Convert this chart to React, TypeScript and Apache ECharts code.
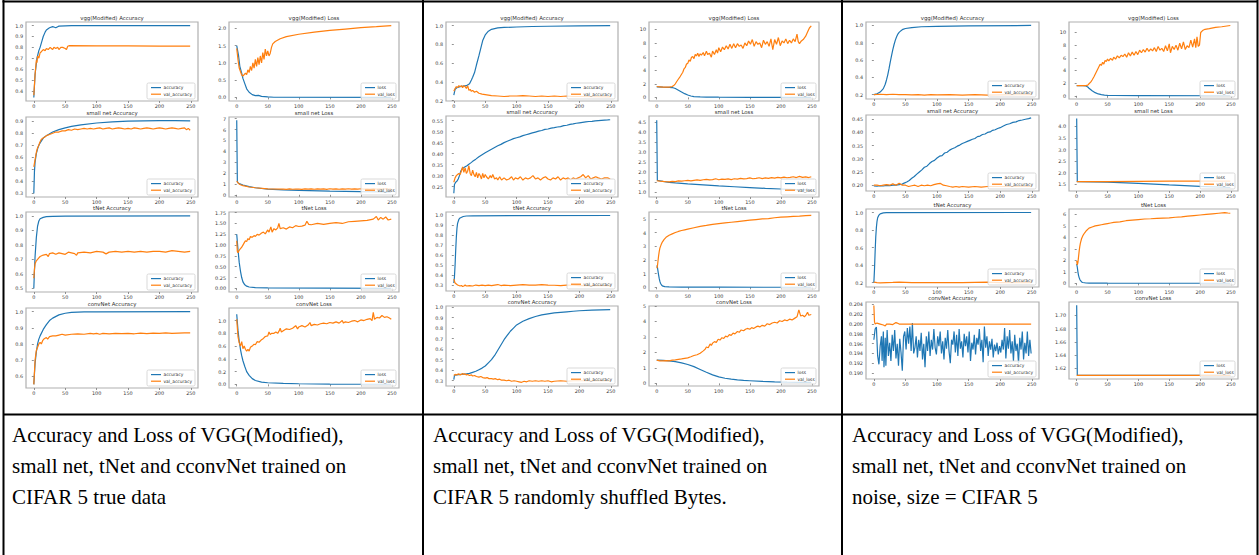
import React, { useEffect, useRef } from "react";
import * as echarts from "echarts";

// ---------------- DATA ----------------
const xTicks = [0, 50, 100, 150, 200, 250];

// ---- Column 1: CIFAR 5 true data ----
const c1VggAccTrain = [[0,0.34],[2,0.55],[5,0.7],[8,0.77],[10,0.8],[13,0.86],[15,0.9],[18,0.94],[20,0.96],[25,0.98],[30,0.99],[33,0.985],[35,0.98],[38,0.99],[40,0.995],[50,0.998],[60,1.0],[249,1.0]];
const c1VggAccVal = [[0,0.36],[2,0.55],[4,0.68],[5,0.66],[6,0.72],[8,0.7],[10,0.75],[12,0.76],[15,0.78],[18,0.77],[20,0.79],[23,0.78],[26,0.8],[28,0.79],[30,0.78],[32,0.8],[35,0.79],[38,0.8],[40,0.78],[43,0.8],[46,0.8],[50,0.79],[52,0.78],[54,0.81],[56,0.815],[100,0.814],[150,0.813],[200,0.812],[249,0.811]];
const c1VggLossTrain = [[0,1.5],[3,1.2],[5,0.9],[8,0.7],[10,0.55],[13,0.4],[16,0.25],[20,0.15],[25,0.08],[30,0.05],[35,0.06],[40,0.03],[50,0.015],[60,0.005],[249,0.0]];
const c1VggLossVal = [[0,1.42],[2,1.1],[4,0.85],[6,0.75],[8,0.65],[10,0.62],[12,0.66],[14,0.7],[16,0.66],[18,0.8],[20,0.72],[22,0.9],[24,0.78],[26,1.0],[28,0.85],[30,1.1],[32,0.9],[34,1.15],[36,0.95],[38,1.2],[40,1.0],[42,1.3],[44,1.1],[46,1.4],[48,1.2],[50,1.35],[52,1.2],[54,1.28],[56,1.45],[58,1.55],[62,1.62],[70,1.7],[80,1.76],[100,1.83],[125,1.89],[150,1.94],[175,1.98],[200,2.02],[225,2.05],[249,2.08]];
const c1SmallAccTrain = [[0,0.3],[1,0.48],[2,0.56],[4,0.63],[6,0.67],[8,0.7],[10,0.72],[15,0.76],[20,0.78],[30,0.81],[40,0.83],[50,0.845],[60,0.857],[75,0.87],[100,0.885],[125,0.895],[150,0.9],[175,0.903],[200,0.905],[225,0.905],[249,0.903]];
const c1SmallAccVal = [[0,0.52],[2,0.58],[4,0.64],[6,0.68],[8,0.7],[10,0.73],[12,0.75],[15,0.76],[18,0.77],[20,0.78],[25,0.79],[30,0.8],[35,0.81],[40,0.81],[45,0.82],[50,0.82],[55,0.83],[60,0.825],[65,0.835],[70,0.83],[75,0.835],[80,0.84],[85,0.835],[90,0.84],[95,0.835],[100,0.84],[105,0.845],[110,0.835],[115,0.84],[120,0.845],[125,0.835],[130,0.84],[135,0.845],[140,0.84],[145,0.835],[150,0.84],[155,0.835],[160,0.845],[165,0.84],[170,0.835],[175,0.84],[180,0.845],[185,0.84],[190,0.835],[195,0.84],[200,0.845],[205,0.84],[210,0.835],[215,0.84],[220,0.845],[225,0.84],[230,0.835],[235,0.84],[240,0.845],[243,0.83],[246,0.84],[249,0.825]];
const c1SmallLossTrain = [[0,6.85],[1,1.25],[2,1.1],[5,1.0],[10,0.9],[20,0.75],[30,0.65],[50,0.52],[75,0.45],[100,0.4],[150,0.34],[200,0.3],[249,0.28]];
const c1SmallLossVal = [[0,1.25],[2,1.1],[5,0.95],[10,0.85],[20,0.72],[30,0.65],[50,0.55],[75,0.52],[80,0.5],[85,0.54],[90,0.51],[95,0.53],[100,0.52],[105,0.5],[110,0.55],[115,0.52],[120,0.54],[125,0.51],[130,0.55],[135,0.52],[140,0.54],[145,0.5],[150,0.56],[155,0.52],[160,0.54],[165,0.51],[170,0.55],[175,0.52],[180,0.56],[185,0.53],[190,0.55],[195,0.52],[200,0.56],[205,0.53],[210,0.55],[215,0.52],[220,0.57],[225,0.53],[230,0.55],[235,0.52],[240,0.56],[245,0.53],[249,0.55]];
const c1TAccTrain = [[0,0.5],[1,0.62],[2,0.72],[4,0.85],[6,0.93],[8,0.965],[10,0.98],[15,0.99],[20,0.995],[30,0.997],[50,0.998],[249,1.0]];
const c1TAccVal = [[0,0.57],[1,0.63],[2,0.67],[4,0.69],[6,0.7],[8,0.71],[10,0.72],[15,0.73],[20,0.735],[23,0.72],[25,0.74],[30,0.745],[35,0.735],[40,0.745],[45,0.74],[50,0.735],[55,0.75],[60,0.745],[65,0.74],[68,0.728],[70,0.745],[80,0.75],[90,0.745],[100,0.755],[110,0.75],[115,0.738],[120,0.75],[130,0.755],[140,0.75],[150,0.755],[160,0.75],[170,0.755],[180,0.75],[190,0.755],[200,0.755],[210,0.75],[220,0.76],[230,0.755],[240,0.75],[249,0.755]];
const c1TLossTrain = [[0,1.25],[2,0.9],[4,0.6],[6,0.4],[8,0.25],[10,0.15],[13,0.08],[16,0.05],[20,0.03],[30,0.015],[50,0.01],[249,0.0]];
const c1TLossVal = [[0,1.1],[1,0.85],[2,0.82],[4,0.88],[6,0.92],[8,0.95],[10,1.0],[12,1.05],[14,1.1],[16,1.08],[18,1.15],[20,1.12],[22,1.2],[25,1.18],[28,1.22],[30,1.2],[33,1.25],[36,1.23],[40,1.28],[43,1.3],[46,1.26],[50,1.35],[52,1.3],[55,1.42],[57,1.3],[60,1.38],[63,1.35],[66,1.4],[68,1.5],[70,1.38],[75,1.4],[80,1.37],[85,1.42],[90,1.4],[95,1.45],[100,1.43],[105,1.44],[110,1.46],[113,1.55],[116,1.48],[120,1.47],[130,1.5],[140,1.48],[150,1.5],[160,1.52],[170,1.5],[180,1.54],[190,1.55],[200,1.56],[210,1.57],[220,1.6],[225,1.66],[228,1.58],[232,1.64],[236,1.6],[240,1.65],[244,1.58],[249,1.6]];
const c1ConvAccTrain = [[0,0.55],[2,0.68],[4,0.75],[6,0.8],[8,0.83],[10,0.85],[15,0.89],[20,0.92],[25,0.945],[30,0.96],[40,0.98],[50,0.99],[60,0.995],[80,0.998],[100,0.999],[249,1.0]];
const c1ConvAccVal = [[0,0.55],[2,0.7],[4,0.76],[6,0.78],[8,0.8],[10,0.81],[12,0.8],[14,0.82],[16,0.83],[18,0.835],[20,0.84],[22,0.83],[25,0.845],[30,0.85],[35,0.85],[40,0.855],[45,0.86],[50,0.855],[60,0.86],[70,0.862],[80,0.86],[90,0.865],[95,0.862],[100,0.865],[105,0.86],[110,0.865],[120,0.862],[130,0.866],[140,0.864],[150,0.866],[160,0.863],[170,0.867],[180,0.864],[190,0.867],[200,0.865],[210,0.868],[220,0.866],[230,0.867],[240,0.868],[249,0.868]];
const c1ConvLossTrain = [[0,1.1],[2,0.85],[4,0.68],[6,0.55],[8,0.45],[10,0.37],[13,0.28],[16,0.2],[20,0.14],[25,0.09],[30,0.06],[40,0.035],[50,0.025],[75,0.015],[100,0.01],[150,0.005],[249,0.002]];
const c1ConvLossVal = [[0,1.02],[2,0.75],[4,0.65],[6,0.6],[8,0.67],[10,0.56],[12,0.6],[14,0.55],[16,0.52],[18,0.55],[20,0.52],[22,0.58],[25,0.6],[28,0.63],[30,0.62],[33,0.67],[36,0.66],[40,0.7],[43,0.72],[46,0.75],[50,0.76],[52,0.82],[54,0.78],[56,0.8],[60,0.8],[63,0.82],[66,0.8],[69,0.85],[70,0.88],[72,0.82],[75,0.84],[80,0.87],[85,0.86],[90,0.88],[95,0.92],[98,0.87],[100,0.9],[105,0.92],[110,0.9],[115,0.93],[118,0.97],[120,0.92],[125,0.94],[130,0.93],[135,0.95],[140,0.96],[145,0.95],[150,0.97],[155,0.96],[160,0.98],[165,0.96],[170,1.0],[172,0.96],[175,0.98],[180,0.97],[185,0.99],[190,1.0],[195,0.98],[200,1.01],[205,1.0],[210,1.02],[215,1.03],[218,1.0],[220,1.13],[222,1.02],[226,1.05],[230,1.04],[234,1.08],[238,1.05],[242,1.06],[246,1.04],[249,1.02]];

// ---- Column 2: randomly shuffled bytes ----
const c2VggAccTrain = [[0,0.26],[2,0.32],[5,0.34],[10,0.35],[15,0.355],[20,0.36],[25,0.38],[28,0.42],[30,0.45],[33,0.5],[36,0.58],[40,0.68],[43,0.76],[46,0.84],[50,0.9],[55,0.94],[60,0.96],[70,0.975],[80,0.98],[100,0.985],[125,0.99],[150,0.993],[200,0.997],[249,1.0]];
const c2VggAccVal = [[0,0.3],[2,0.33],[4,0.35],[6,0.34],[8,0.36],[10,0.35],[12,0.36],[14,0.34],[16,0.36],[18,0.35],[20,0.33],[22,0.36],[24,0.31],[26,0.32],[28,0.3],[30,0.31],[33,0.29],[36,0.3],[40,0.28],[45,0.27],[50,0.265],[55,0.26],[60,0.255],[70,0.25],[80,0.245],[90,0.25],[100,0.25],[110,0.255],[120,0.25],[130,0.245],[140,0.25],[150,0.245],[160,0.25],[170,0.245],[180,0.25],[190,0.245],[200,0.245],[249,0.24]];
const c2VggLossTrain = [[0,1.55],[10,1.5],[20,1.48],[25,1.45],[30,1.3],[35,1.05],[40,0.8],[45,0.55],[50,0.35],[55,0.2],[60,0.12],[70,0.07],[80,0.05],[100,0.03],[150,0.015],[249,0.005]];
const c2VggLossVal = [[0,1.6],[5,1.55],[10,1.5],[15,1.5],[20,1.52],[25,1.6],[28,1.8],[30,2.0],[32,2.3],[35,2.7],[38,3.1],[40,3.4],[42,3.7],[44,4.2],[46,4.4],[48,4.9],[50,5.0],[52,5.5],[54,5.3],[56,5.9],[58,6.0],[60,5.7],[62,6.3],[64,6.1],[66,6.5],[68,6.0],[70,6.4],[72,6.2],[75,6.6],[77,6.1],[80,6.8],[82,6.3],[85,6.5],[88,5.9],[90,6.8],[93,6.3],[96,7.0],[98,6.5],[100,7.3],[103,6.7],[106,7.4],[109,7.0],[112,7.6],[115,7.1],[118,7.8],[121,7.2],[124,7.9],[127,7.3],[130,7.9],[133,7.5],[136,7.7],[139,7.2],[142,8.0],[145,7.6],[148,8.3],[151,7.8],[154,8.5],[157,7.5],[160,8.2],[163,7.8],[166,8.0],[169,7.3],[172,8.4],[175,7.8],[178,8.2],[181,7.5],[184,8.6],[187,7.0],[190,8.5],[193,7.8],[196,8.8],[199,7.6],[202,8.3],[205,8.0],[208,8.6],[211,7.9],[214,8.4],[217,8.0],[220,8.6],[223,8.2],[226,9.3],[228,8.2],[230,7.9],[233,8.3],[236,8.5],[240,9.0],[243,9.6],[246,10.2],[249,10.5]];
const c2SmallAccTrain = [[0,0.22],[1,0.26],[3,0.27],[5,0.275],[7,0.285],[9,0.3],[11,0.32],[13,0.33],[15,0.335],[18,0.34],[21,0.345],[24,0.352],[27,0.358],[30,0.365],[35,0.375],[40,0.386],[45,0.395],[50,0.404],[55,0.412],[60,0.42],[65,0.428],[70,0.436],[75,0.442],[80,0.45],[85,0.456],[90,0.462],[95,0.468],[100,0.472],[105,0.476],[110,0.482],[115,0.486],[120,0.49],[125,0.494],[130,0.498],[135,0.502],[140,0.505],[145,0.51],[150,0.512],[155,0.516],[160,0.518],[165,0.521],[170,0.523],[175,0.527],[180,0.529],[185,0.533],[190,0.535],[195,0.538],[200,0.54],[205,0.542],[210,0.544],[215,0.546],[220,0.547],[225,0.549],[230,0.55],[235,0.551],[240,0.552],[245,0.553],[249,0.554]];
const c2SmallAccVal = [[0,0.27],[2,0.29],[4,0.3],[6,0.305],[8,0.31],[10,0.305],[12,0.32],[14,0.34],[16,0.315],[18,0.335],[20,0.31],[22,0.32],[24,0.345],[26,0.31],[28,0.3],[30,0.325],[32,0.305],[34,0.295],[36,0.315],[38,0.29],[40,0.31],[42,0.3],[44,0.285],[46,0.31],[48,0.29],[50,0.305],[52,0.295],[55,0.285],[58,0.3],[60,0.29],[62,0.305],[65,0.285],[68,0.29],[70,0.28],[73,0.295],[76,0.28],[80,0.29],[84,0.28],[88,0.285],[92,0.295],[95,0.28],[98,0.29],[102,0.285],[106,0.295],[110,0.28],[114,0.29],[118,0.285],[122,0.29],[126,0.3],[130,0.285],[134,0.29],[138,0.28],[142,0.29],[146,0.295],[150,0.285],[154,0.28],[158,0.29],[162,0.285],[166,0.295],[170,0.28],[174,0.29],[178,0.285],[182,0.29],[186,0.28],[190,0.29],[194,0.285],[198,0.29],[202,0.295],[206,0.305],[210,0.29],[214,0.3],[218,0.285],[222,0.29],[226,0.295],[230,0.29],[235,0.285],[240,0.29],[245,0.29],[249,0.285]];
const c2SmallLossTrain = [[0,4.6],[1,1.6],[5,1.58],[10,1.55],[20,1.5],[30,1.47],[50,1.42],[75,1.37],[100,1.32],[125,1.28],[150,1.24],[175,1.2],[200,1.17],[225,1.14],[249,1.12]];
const c2SmallLossVal = [[0,1.58],[5,1.56],[10,1.55],[15,1.53],[20,1.52],[25,1.55],[30,1.54],[35,1.57],[40,1.56],[45,1.58],[50,1.6],[55,1.57],[60,1.6],[65,1.62],[70,1.6],[75,1.63],[80,1.65],[85,1.62],[90,1.64],[95,1.68],[100,1.63],[105,1.66],[110,1.65],[115,1.67],[120,1.64],[125,1.68],[130,1.66],[135,1.7],[140,1.67],[145,1.69],[150,1.72],[155,1.68],[160,1.7],[165,1.73],[170,1.69],[175,1.72],[180,1.7],[185,1.74],[190,1.71],[195,1.75],[200,1.72],[205,1.76],[210,1.73],[215,1.75],[220,1.78],[225,1.74],[230,1.8],[235,1.75],[240,1.77],[245,1.74],[249,1.78]];
const c2TAccTrain = [[0,0.32],[1,0.38],[2,0.5],[3,0.65],[4,0.78],[5,0.87],[6,0.92],[8,0.96],[10,0.975],[15,0.99],[20,0.995],[30,0.997],[249,1.0]];
const c2TAccVal = [[0,0.36],[1,0.34],[2,0.32],[4,0.31],[6,0.3],[8,0.295],[10,0.29],[12,0.295],[14,0.285],[16,0.29],[18,0.3],[20,0.29],[25,0.295],[30,0.29],[35,0.3],[40,0.295],[45,0.3],[50,0.295],[55,0.3],[60,0.295],[65,0.3],[70,0.305],[75,0.295],[80,0.3],[90,0.295],[100,0.3],[110,0.305],[120,0.3],[130,0.3],[140,0.305],[150,0.3],[160,0.298],[170,0.295],[180,0.3],[190,0.298],[200,0.295],[249,0.295]];
const c2TLossTrain = [[0,1.6],[1,1.5],[2,1.2],[3,0.9],[4,0.65],[5,0.45],[6,0.3],[8,0.15],[10,0.08],[13,0.05],[20,0.03],[40,0.015],[100,0.008],[249,0.003]];
const c2TLossVal = [[0,1.4],[1,1.5],[2,1.9],[3,2.3],[4,2.6],[5,2.85],[7,3.1],[9,3.3],[12,3.5],[15,3.65],[20,3.8],[25,3.9],[30,4.0],[35,4.08],[40,4.15],[45,4.2],[50,4.25],[60,4.35],[70,4.45],[80,4.52],[90,4.6],[100,4.65],[110,4.7],[120,4.75],[130,4.8],[140,4.85],[150,4.9],[160,4.95],[170,5.0],[180,5.02],[190,5.08],[200,5.12],[210,5.15],[220,5.18],[230,5.2],[240,5.24],[249,5.25]];
const c2ConvAccTrain = [[0,0.31],[1,0.35],[3,0.355],[5,0.355],[10,0.36],[15,0.362],[20,0.365],[25,0.37],[30,0.38],[35,0.39],[40,0.405],[45,0.42],[50,0.44],[55,0.47],[60,0.5],[65,0.54],[70,0.59],[75,0.64],[80,0.69],[85,0.73],[90,0.77],[95,0.8],[100,0.83],[110,0.865],[120,0.89],[130,0.91],[140,0.925],[150,0.935],[160,0.945],[170,0.95],[180,0.955],[190,0.96],[200,0.965],[220,0.97],[249,0.975]];
const c2ConvAccVal = [[0,0.35],[2,0.36],[4,0.355],[6,0.36],[8,0.365],[10,0.355],[12,0.36],[14,0.37],[16,0.36],[18,0.365],[20,0.355],[22,0.36],[25,0.35],[28,0.355],[30,0.345],[33,0.35],[36,0.34],[40,0.335],[43,0.34],[46,0.33],[50,0.325],[53,0.33],[56,0.32],[60,0.32],[63,0.315],[66,0.32],[70,0.31],[73,0.315],[76,0.305],[80,0.305],[84,0.3],[88,0.305],[92,0.295],[96,0.3],[100,0.295],[104,0.29],[108,0.285],[112,0.295],[116,0.29],[120,0.3],[125,0.295],[130,0.3],[135,0.295],[140,0.3],[145,0.295],[150,0.3],[155,0.29],[160,0.295],[170,0.3],[180,0.295],[190,0.3],[200,0.3],[249,0.3]];
const c2ConvLossTrain = [[0,1.5],[10,1.48],[20,1.45],[30,1.4],[40,1.32],[50,1.22],[60,1.08],[70,0.9],[80,0.72],[90,0.55],[100,0.42],[110,0.33],[120,0.27],[130,0.22],[140,0.19],[150,0.17],[170,0.13],[190,0.1],[210,0.08],[230,0.07],[249,0.06]];
const c2ConvLossVal = [[0,1.5],[5,1.45],[10,1.45],[15,1.47],[20,1.45],[25,1.5],[30,1.52],[35,1.55],[40,1.58],[45,1.62],[50,1.65],[55,1.72],[60,1.8],[65,1.85],[70,1.95],[75,2.1],[78,2.2],[80,2.35],[83,2.3],[86,2.55],[88,2.45],[90,2.6],[93,2.7],[96,2.65],[99,2.85],[102,2.8],[105,2.95],[108,2.9],[111,3.05],[114,3.0],[117,3.15],[120,3.1],[123,3.25],[126,3.2],[130,3.35],[133,3.3],[136,3.45],[140,3.4],[143,3.5],[146,3.55],[150,3.5],[153,3.6],[156,3.55],[160,3.65],[163,3.7],[166,3.65],[170,3.75],[174,3.7],[178,3.85],[182,3.8],[186,3.9],[190,3.95],[194,3.9],[198,4.05],[202,4.0],[206,4.1],[210,4.05],[214,4.15],[218,4.1],[222,4.2],[226,4.3],[229,4.75],[232,4.35],[235,4.4],[238,4.3],[241,4.45],[243,4.6],[245,4.4],[249,4.45]];

// ---- Column 3: noise ----
const c3VggAccTrain = [[0,0.2],[5,0.21],[10,0.23],[15,0.27],[18,0.32],[20,0.37],[22,0.43],[24,0.5],[26,0.58],[28,0.65],[30,0.72],[32,0.78],[34,0.83],[36,0.87],[38,0.9],[40,0.92],[43,0.94],[46,0.955],[50,0.965],[60,0.975],[75,0.985],[100,0.99],[150,0.995],[249,1.0]];
const c3VggAccVal = [[0,0.2],[10,0.205],[20,0.2],[30,0.205],[40,0.2],[50,0.2],[60,0.198],[70,0.2],[80,0.195],[90,0.2],[100,0.198],[120,0.2],[140,0.195],[160,0.2],[180,0.195],[200,0.198],[249,0.2]];
const c3VggLossTrain = [[0,1.6],[10,1.6],[15,1.55],[18,1.4],[20,1.2],[25,0.8],[30,0.5],[35,0.3],[40,0.18],[45,0.12],[50,0.08],[60,0.05],[100,0.03],[249,0.01]];
const c3VggLossVal = [[0,1.6],[10,1.6],[15,1.62],[18,1.7],[20,1.9],[23,2.2],[25,2.5],[28,3.0],[30,3.4],[32,3.8],[34,4.2],[36,4.6],[38,5.0],[40,4.8],[42,5.3],[44,5.0],[46,5.6],[48,5.4],[50,5.8],[52,5.5],[55,5.9],[58,5.6],[60,6.1],[63,5.8],[66,6.3],[69,6.0],[72,6.4],[75,6.2],[78,6.6],[81,6.1],[84,6.8],[87,6.3],[90,6.9],[93,6.4],[96,7.0],[99,6.5],[102,7.2],[105,6.8],[108,7.3],[111,6.9],[114,7.5],[117,7.0],[120,7.4],[123,7.1],[126,7.6],[129,7.0],[132,7.8],[135,7.2],[138,7.5],[141,7.0],[144,7.9],[147,7.1],[150,8.2],[152,6.8],[155,7.8],[158,7.3],[161,8.0],[164,7.2],[167,8.3],[170,7.4],[173,8.5],[176,7.3],[179,7.9],[182,7.6],[185,8.8],[188,7.7],[191,9.0],[193,7.6],[195,9.3],[197,7.8],[199,8.0],[201,10.0],[204,10.3],[208,10.5],[215,10.6],[225,10.8],[235,10.9],[249,11.1]];
const c3SmallAccTrain = [[0,0.197],[5,0.196],[10,0.198],[15,0.197],[20,0.199],[25,0.198],[30,0.2],[35,0.2],[40,0.202],[45,0.204],[48,0.208],[52,0.212],[56,0.218],[60,0.226],[64,0.233],[68,0.242],[72,0.25],[76,0.258],[80,0.268],[84,0.272],[88,0.282],[92,0.29],[96,0.294],[100,0.303],[104,0.31],[108,0.312],[112,0.322],[116,0.325],[120,0.333],[124,0.338],[128,0.342],[132,0.348],[136,0.352],[140,0.358],[144,0.362],[148,0.366],[152,0.37],[156,0.374],[160,0.377],[164,0.384],[168,0.386],[172,0.392],[176,0.394],[180,0.4],[184,0.402],[188,0.408],[192,0.41],[196,0.415],[200,0.418],[205,0.424],[210,0.43],[215,0.433],[220,0.438],[225,0.44],[230,0.445],[235,0.447],[240,0.45],[245,0.452],[249,0.455]];
const c3SmallAccVal = [[0,0.2],[5,0.2],[10,0.198],[15,0.2],[20,0.202],[25,0.2],[30,0.205],[35,0.2],[40,0.207],[45,0.2],[50,0.2],[55,0.195],[60,0.198],[65,0.2],[70,0.195],[75,0.2],[80,0.198],[85,0.2],[90,0.198],[95,0.202],[100,0.205],[105,0.207],[110,0.2],[115,0.198],[120,0.195],[125,0.193],[130,0.195],[135,0.193],[140,0.195],[150,0.193],[160,0.195],[170,0.193],[180,0.195],[190,0.195],[200,0.195],[249,0.195]];
const c3SmallLossTrain = [[0,4.33],[1,1.62],[50,1.6],[100,1.55],[150,1.48],[200,1.42],[249,1.37]];
const c3SmallLossVal = [[0,1.62],[50,1.62],[100,1.63],[150,1.64],[200,1.64],[249,1.64]];
const c3TAccTrain = [[0,0.2],[1,0.35],[2,0.55],[3,0.72],[4,0.83],[5,0.9],[6,0.94],[8,0.97],[10,0.985],[15,0.995],[20,0.998],[249,1.0]];
const c3TAccVal = [[0,0.205],[5,0.2],[10,0.198],[20,0.2],[30,0.202],[40,0.205],[50,0.203],[60,0.2],[80,0.2],[100,0.2],[120,0.2],[140,0.2],[160,0.203],[180,0.205],[200,0.2],[249,0.2]];
const c3TLossTrain = [[0,1.7],[1,1.4],[2,1.0],[3,0.7],[4,0.5],[5,0.35],[6,0.25],[8,0.12],[10,0.07],[15,0.03],[20,0.02],[50,0.01],[249,0.005]];
const c3TLossVal = [[0,1.95],[1,1.6],[2,1.8],[3,2.3],[4,2.8],[5,3.2],[6,3.5],[8,3.9],[10,4.15],[13,4.4],[16,4.6],[20,4.8],[25,4.9],[30,5.0],[35,5.05],[40,5.1],[45,5.15],[50,5.2],[55,5.25],[60,5.3],[70,5.35],[80,5.45],[90,5.5],[100,5.55],[110,5.6],[120,5.62],[130,5.65],[140,5.68],[150,5.7],[160,5.75],[170,5.78],[180,5.85],[190,5.9],[200,5.95],[210,6.0],[220,6.05],[230,6.1],[240,6.15],[245,6.12],[249,6.1]];
const c3ConvAccTrain = [[0,0.1968],[2,0.199],[4,0.1994],[6,0.1935],[8,0.1918],[10,0.1955],[12,0.1975],[13,0.1925],[15,0.1985],[16,0.1912],[18,0.1972],[19,0.1915],[21,0.1988],[23,0.1935],[25,0.1962],[27,0.1925],[29,0.1978],[31,0.1945],[33,0.1988],[35,0.193],[37,0.196],[39,0.1915],[41,0.197],[43,0.1942],[45,0.1905],[47,0.1975],[49,0.1985],[51,0.1948],[53,0.1992],[55,0.196],[57,0.1995],[59,0.1945],[61,0.2002],[63,0.194],[65,0.1952],[67,0.1975],[69,0.1932],[71,0.1968],[73,0.1945],[75,0.1982],[77,0.1928],[79,0.196],[81,0.1912],[83,0.1975],[85,0.1945],[87,0.1985],[89,0.1935],[91,0.1968],[93,0.1948],[95,0.199],[97,0.1952],[99,0.1938],[101,0.1975],[103,0.1955],[105,0.1985],[107,0.194],[109,0.1965],[111,0.1928],[113,0.1972],[115,0.195],[117,0.1988],[119,0.1945],[121,0.192],[123,0.1968],[125,0.1958],[127,0.1985],[129,0.1942],[131,0.1978],[133,0.1935],[135,0.199],[137,0.195],[139,0.1965],[141,0.1932],[143,0.198],[145,0.1955],[147,0.1975],[149,0.1942],[151,0.1985],[153,0.1925],[155,0.1962],[157,0.1948],[159,0.1978],[161,0.1938],[163,0.1972],[165,0.1958],[167,0.199],[169,0.1945],[171,0.1968],[173,0.1922],[175,0.1995],[177,0.1952],[179,0.1975],[181,0.1935],[183,0.1965],[185,0.1948],[187,0.197],[189,0.1932],[191,0.1958],[193,0.1945],[195,0.1962],[197,0.1938],[199,0.1955],[201,0.1942],[203,0.1968],[205,0.1948],[207,0.1992],[209,0.193],[211,0.1975],[213,0.195],[215,0.1988],[217,0.194],[219,0.1965],[221,0.1925],[223,0.1978],[225,0.1945],[227,0.196],[229,0.192],[231,0.1972],[233,0.1948],[235,0.1985],[237,0.1928],[239,0.1962],[241,0.194],[243,0.1985],[245,0.1935],[247,0.1968],[249,0.194]];
const c3ConvAccVal = [[0,0.2038],[1,0.2005],[2,0.2],[5,0.2002],[10,0.2],[15,0.1998],[18,0.1996],[20,0.2],[25,0.2],[30,0.1999],[35,0.2003],[37,0.2002],[40,0.2],[45,0.2],[249,0.2]];
const c3ConvLossTrain = [[0,1.715],[1,1.6095],[249,1.6094]];
const c3ConvLossVal = [[0,1.6094],[249,1.6094]];

// titles, captions
const modelTitles = ["vgg(Modified)", "small net", "tNet", "convNet"];
const captions = [
  ["Accuracy and Loss of VGG(Modified),", "small net, tNet and cconvNet trained on", "CIFAR 5 true data"],
  ["Accuracy and Loss of VGG(Modified),", "small net, tNet and cconvNet trained on", "CIFAR 5 randomly shuffled Bytes."],
  ["Accuracy and Loss of VGG(Modified),", "small net, tNet and cconvNet trained on", "noise, size = CIFAR 5"],
];

// axis ranges and tick labels (per column, per panel: vggAcc, vggLoss, smallAcc, smallLoss, tAcc, tLoss, convAcc, convLoss)
const c1Ranges = [[0.307, 1.033], [-0.104, 2.184], [0.27, 0.935], [-0.2, 7.15], [0.475, 1.027], [-0.085, 1.765], [0.5275, 1.0225], [-0.057, 1.197]];
const c1Ticks = [[0.4,0.5,0.6,0.7,0.8,0.9,1.0],[0,0.5,1.0,1.5,2.0],[0.3,0.4,0.5,0.6,0.7,0.8,0.9],[0,1,2,3,4,5,6,7],[0.5,0.6,0.7,0.8,0.9,1.0],[0,0.25,0.5,0.75,1.0,1.25,1.5,1.75],[0.6,0.7,0.8,0.9,1.0],[0,0.2,0.4,0.6,0.8,1.0]];
const c1Dec = [1, 1, 1, 0, 1, 2, 1, 1];
const c2Ranges = [[0.197, 1.038], [-0.53, 11.08], [0.203, 0.571], [0.77, 4.81], [0.24, 1.035], [-0.27, 5.5], [0.25, 1.01], [-0.17, 5.0]];
const c2Ticks = [[0.2,0.4,0.6,0.8,1.0],[0,2,4,6,8,10],[0.25,0.3,0.35,0.4,0.45,0.5,0.55],[1.0,1.5,2.0,2.5,3.0,3.5,4.0,4.5],[0.3,0.4,0.5,0.6,0.7,0.8,0.9,1.0],[0,1,2,3,4,5],[0.3,0.4,0.5,0.6,0.7,0.8,0.9,1.0],[0,1,2,3,4,5]];
const c2Dec = [1, 0, 2, 1, 1, 0, 1, 0];
const c3Ranges = [[0.15, 1.04], [-0.5, 11.65], [0.178, 0.466], [1.22, 4.48], [0.15, 1.04], [-0.32, 6.47], [0.1888, 0.2045], [1.604, 1.72]];
const c3Ticks = [[0.2,0.4,0.6,0.8,1.0],[0,2,4,6,8,10],[0.2,0.25,0.3,0.35,0.4,0.45],[1.5,2.0,2.5,3.0,3.5,4.0],[0.2,0.4,0.6,0.8,1.0],[0,1,2,3,4,5,6],[0.19,0.192,0.194,0.196,0.198,0.2,0.202,0.204],[1.62,1.64,1.66,1.68,1.7]];
const c3Dec = [1, 0, 2, 1, 1, 0, 3, 2];

const c1Series = [[c1VggAccTrain,c1VggAccVal],[c1VggLossTrain,c1VggLossVal],[c1SmallAccTrain,c1SmallAccVal],[c1SmallLossTrain,c1SmallLossVal],[c1TAccTrain,c1TAccVal],[c1TLossTrain,c1TLossVal],[c1ConvAccTrain,c1ConvAccVal],[c1ConvLossTrain,c1ConvLossVal]];
const c2Series = [[c2VggAccTrain,c2VggAccVal],[c2VggLossTrain,c2VggLossVal],[c2SmallAccTrain,c2SmallAccVal],[c2SmallLossTrain,c2SmallLossVal],[c2TAccTrain,c2TAccVal],[c2TLossTrain,c2TLossVal],[c2ConvAccTrain,c2ConvAccVal],[c2ConvLossTrain,c2ConvLossVal]];
const c3Series = [[c3VggAccTrain,c3VggAccVal],[c3VggLossTrain,c3VggLossVal],[c3SmallAccTrain,c3SmallAccVal],[c3SmallLossTrain,c3SmallLossVal],[c3TAccTrain,c3TAccVal],[c3TLossTrain,c3TLossVal],[c3ConvAccTrain,c3ConvAccVal],[c3ConvLossTrain,c3ConvLossVal]];

// ---------------- LAYOUT / STYLE ----------------
const W = 1259, H = 555;
const BLUE = "#1f77b4";
const ORANGE = "#ff7f0e";
const FONT = '"DejaVu Sans", sans-serif';
const SERIF = '"Liberation Serif", "Times New Roman", serif';
const layouts = [
  { accL: 26, accW: 172, lossL: 229, lossW: 170, tops: [22, 117, 212, 308], hs: [79, 80, 80, 80] },
  { accL: 446, accW: 172, lossL: 649, lossW: 170, tops: [22, 116, 212, 306], hs: [79, 81, 79, 80] },
  { accL: 866, accW: 173, lossL: 1069, lossW: 169, tops: [22, 115, 209, 302], hs: [77, 76, 78, 77] },
];
const captionX = [12, 433, 852];
const captionY = [435, 466, 497];

function buildOption() {
  const grid: any[] = [], xAxis: any[] = [], yAxis: any[] = [], series: any[] = [], graphic: any[] = [];
  const cols = [
    { s: c1Series, r: c1Ranges, t: c1Ticks, d: c1Dec },
    { s: c2Series, r: c2Ranges, t: c2Ticks, d: c2Dec },
    { s: c3Series, r: c3Ranges, t: c3Ticks, d: c3Dec },
  ];
  let gi = 0;
  cols.forEach((col, c) => {
    const L = layouts[c];
    for (let k = 0; k < 8; k++) {
      const row = Math.floor(k / 2);
      const isLoss = k % 2 === 1;
      const left = isLoss ? L.lossL : L.accL;
      const width = isLoss ? L.lossW : L.accW;
      const top = L.tops[row];
      const height = L.hs[row];
      const dec = col.d[k];
      grid.push({ left, top, width, height, show: true, borderColor: "#b0b0b0", borderWidth: 1.2, backgroundColor: "transparent" });
      xAxis.push({
        type: "value", gridIndex: gi, min: -12.45, max: 261.45,
        axisLine: { show: false }, splitLine: { show: false },
        axisTick: { show: true, customValues: xTicks, length: 2, lineStyle: { color: "#777", width: 0.8 } },
        axisLabel: { show: true, customValues: xTicks, fontSize: 4.9, color: "#3a3a3a", margin: 2.5, fontFamily: FONT, formatter: (v: number) => String(Math.round(v)) },
      });
      yAxis.push({
        type: "value", gridIndex: gi, min: col.r[k][0], max: col.r[k][1],
        axisLine: { show: false }, splitLine: { show: false },
        axisTick: { show: true, customValues: col.t[k], length: 2, lineStyle: { color: "#777", width: 0.8 } },
        axisLabel: { show: true, customValues: col.t[k], fontSize: 4.9, color: "#3a3a3a", margin: 3, fontFamily: FONT, formatter: (v: number) => v.toFixed(dec) },
      });
      const names = isLoss ? ["loss", "val_loss"] : ["accuracy", "val_accuracy"];
      series.push({ type: "line", name: names[0], xAxisIndex: gi, yAxisIndex: gi, data: col.s[k][0], symbol: "none", silent: true, lineStyle: { color: BLUE, width: 1.2 }, itemStyle: { color: BLUE }, z: 3 });
      series.push({ type: "line", name: names[1], xAxisIndex: gi, yAxisIndex: gi, data: col.s[k][1], symbol: "none", silent: true, lineStyle: { color: ORANGE, width: 1.2 }, itemStyle: { color: ORANGE }, z: 4 });
      // title
      graphic.push({
        type: "text", x: left + width / 2, y: top - 4.3, z: 100,
        style: { text: modelTitles[row] + (isLoss ? " Loss" : " Accuracy"), fill: "#333", fontSize: 5.4, fontFamily: FONT, align: "center", verticalAlign: "middle", textAlign: "center", textVerticalAlign: "middle" },
      });
      // legend
      const lw = isLoss ? 35 : 48, lh = 16;
      const lx = left + width - 3 - lw, ly = top + height - 2 - lh;
      graphic.push({ type: "rect", z: 100, shape: { x: lx, y: ly, width: lw, height: lh, r: 1.5 }, style: { fill: "rgba(255,255,255,0.8)", stroke: "#cfcfcf", lineWidth: 0.8 } });
      [BLUE, ORANGE].forEach((clr, j) => {
        const yy = ly + 4.6 + j * 6.6;
        graphic.push({ type: "line", z: 101, shape: { x1: lx + 4, y1: yy, x2: lx + 14, y2: yy }, style: { stroke: clr, lineWidth: 1.2 } });
        graphic.push({ type: "text", z: 101, x: lx + 16.5, y: yy, style: { text: names[j], fill: "#333", fontSize: 4.4, fontFamily: FONT, verticalAlign: "middle", textVerticalAlign: "middle" } });
      });
      gi++;
    }
  });

  // table lines
  const lineStyle = { stroke: "#000", lineWidth: 2 };
  const tableLines = [
    [2.5, 1.5, 1258, 1.5],
    [3.5, 0, 3.5, H],
    [1257.5, 0, 1257.5, H],
    [423, 0, 423, H],
    [842, 0, 842, H],
    [3.5, 414.5, 1257.5, 414.5],
  ];
  tableLines.forEach(([x1, y1, x2, y2]) => graphic.push({ type: "line", z: 120, shape: { x1, y1, x2, y2 }, style: lineStyle }));

  captions.forEach((lines, c) => {
    lines.forEach((txt, i) => {
      graphic.push({ type: "text", z: 120, x: captionX[c], y: captionY[i], style: { text: txt, fill: "#000", fontSize: 21, fontFamily: SERIF, verticalAlign: "middle", textVerticalAlign: "middle" } });
    });
  });

  return { animation: false, backgroundColor: "#fff", grid, xAxis, yAxis, series, graphic };
}

export default function App() {
  const ref = useRef<HTMLDivElement>(null);
  useEffect(() => {
    if (!ref.current) return;
    const chart = echarts.init(ref.current, undefined, { renderer: "svg" });
    chart.setOption(buildOption() as any);
    return () => chart.dispose();
  }, []);
  return <div ref={ref} style={{ position: "fixed", left: 0, top: 0, width: W, height: H, background: "#fff" }} />;
}
